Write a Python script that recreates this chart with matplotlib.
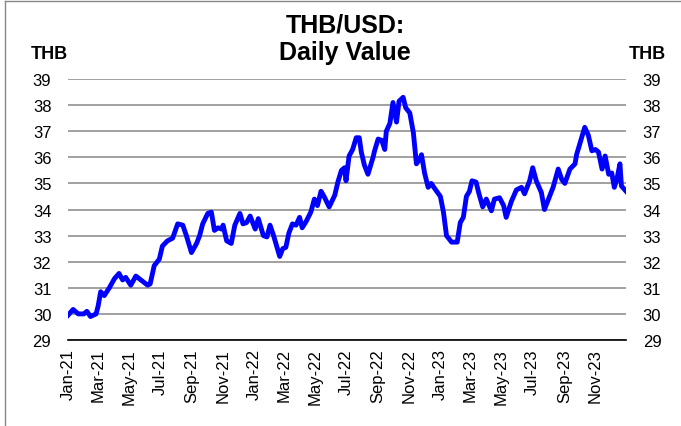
import numpy as np
import pandas as pd
import matplotlib
matplotlib.use("Agg")
import matplotlib.pyplot as plt
import matplotlib.dates as mdates
from matplotlib.lines import Line2D

plt.rcParams['font.family'] = ['Liberation Sans', 'DejaVu Sans']

# THB per USD
dates = [
    '2021-01-01', '2021-01-11', '2021-01-21', '2021-02-01', '2021-02-07', '2021-02-14',
    '2021-02-25', '2021-03-01', '2021-03-06', '2021-03-13', '2021-03-23', '2021-04-02',
    '2021-04-11', '2021-04-18', '2021-04-24', '2021-05-04', '2021-05-14', '2021-05-24',
    '2021-06-06', '2021-06-11', '2021-06-19', '2021-06-29', '2021-07-05', '2021-07-15',
    '2021-07-25', '2021-08-04', '2021-08-14', '2021-08-21', '2021-08-31', '2021-09-10',
    '2021-09-16', '2021-09-22', '2021-10-02', '2021-10-09', '2021-10-15', '2021-10-22',
    '2021-10-29', '2021-11-01', '2021-11-08', '2021-11-17', '2021-11-24', '2021-12-04',
    '2021-12-10', '2021-12-17', '2021-12-24', '2022-01-03', '2022-01-09', '2022-01-19',
    '2022-01-26', '2022-02-01', '2022-02-08', '2022-02-14', '2022-02-20', '2022-02-26',
    '2022-03-04', '2022-03-10', '2022-03-17', '2022-03-24', '2022-03-31', '2022-04-05',
    '2022-04-13', '2022-04-22', '2022-04-29', '2022-05-05', '2022-05-12', '2022-05-18',
    '2022-05-28', '2022-06-08', '2022-06-14', '2022-06-21', '2022-06-27', '2022-06-30',
    '2022-07-06', '2022-07-13', '2022-07-20', '2022-07-26', '2022-07-30', '2022-08-05',
    '2022-08-12', '2022-08-22', '2022-08-25', '2022-09-01', '2022-09-08', '2022-09-14',
    '2022-09-17', '2022-09-24', '2022-09-30', '2022-10-07', '2022-10-12', '2022-10-20',
    '2022-10-25', '2022-11-02', '2022-11-09', '2022-11-15', '2022-11-22', '2022-11-25',
    '2022-12-01', '2022-12-08', '2022-12-14', '2022-12-21', '2023-01-01', '2023-01-07',
    '2023-01-13', '2023-01-23', '2023-02-03', '2023-02-09', '2023-02-15', '2023-02-21',
    '2023-02-27', '2023-03-04', '2023-03-12', '2023-03-17', '2023-03-25', '2023-04-01',
    '2023-04-11', '2023-04-17', '2023-04-27', '2023-05-05', '2023-05-10', '2023-05-20',
    '2023-05-30', '2023-06-09', '2023-06-15', '2023-06-25', '2023-07-01', '2023-07-08',
    '2023-07-18', '2023-07-24', '2023-07-31', '2023-08-10', '2023-08-20', '2023-08-27',
    '2023-09-02', '2023-09-12', '2023-09-22', '2023-09-25', '2023-10-05', '2023-10-11',
    '2023-10-18', '2023-10-25', '2023-11-01', '2023-11-07', '2023-11-14', '2023-11-20',
    '2023-11-27', '2023-12-03', '2023-12-08', '2023-12-13', '2023-12-19', '2023-12-22',
    '2023-12-31',
]
thb = [
    29.95, 30.17, 30.0, 30.0, 30.1, 29.9,
    30.0, 30.3, 30.85, 30.7, 31.0, 31.35,
    31.55, 31.3, 31.4, 31.1, 31.45, 31.3,
    31.1, 31.15, 31.85, 32.1, 32.6, 32.8,
    32.9, 33.45, 33.4, 33.0, 32.35, 32.7,
    33.0, 33.45, 33.85, 33.9, 33.2, 33.3,
    33.25, 33.4, 32.8, 32.7, 33.4, 33.85,
    33.45, 33.5, 33.75, 33.25, 33.65, 33.0,
    32.95, 33.4, 33.0, 32.6, 32.2, 32.5,
    32.55, 33.1, 33.45, 33.4, 33.7, 33.3,
    33.55, 33.9, 34.4, 34.15, 34.7, 34.5,
    34.1, 34.55, 35.05, 35.5, 35.6, 35.1,
    36.05, 36.3, 36.75, 36.75, 36.2, 35.7,
    35.35, 36.0, 36.25, 36.7, 36.65, 36.3,
    37.0, 37.3, 38.1, 37.35, 38.15, 38.3,
    37.9, 37.7, 36.95, 35.75, 35.95, 36.1,
    35.4, 34.85, 35.0, 34.8, 34.5, 33.9,
    33.0, 32.75, 32.75, 33.5, 33.7, 34.5,
    34.7, 35.1, 35.05, 34.65, 34.1, 34.4,
    33.95, 34.4, 34.45, 34.15, 33.7, 34.3,
    34.75, 34.85, 34.6, 35.1, 35.6, 35.1,
    34.65, 34.0, 34.35, 34.85, 35.55, 35.15,
    35.0, 35.55, 35.75, 36.1, 36.75, 37.15,
    36.85, 36.25, 36.3, 36.2, 35.55, 36.05,
    35.35, 35.4, 34.85, 35.15, 35.75, 34.9,
    34.7,
]
x = pd.to_datetime(dates)

fig = plt.figure(figsize=(6.81, 4.27), dpi=100)
ax = fig.add_axes([0.0999, 0.2014, 0.8194, 0.6112])

ax.plot(x, thb, color='#0000FF', linewidth=3.5, solid_joinstyle='round')

ax.set_ylim(29, 39)
ax.set_yticks(range(29, 40))
ax.set_xlim(pd.Timestamp('2021-01-01'), pd.Timestamp('2023-12-31'))
ax.xaxis.set_major_locator(mdates.MonthLocator(bymonth=[1, 3, 5, 7, 9, 11]))
ax.xaxis.set_major_formatter(mdates.DateFormatter('%b-%y'))
plt.setp(ax.get_xticklabels(), rotation=90, fontsize=11)

ax.grid(axis='y', color='#999999', linewidth=1.3)
ax.set_axisbelow(True)
for s in ['top', 'left', 'right']:
    ax.spines[s].set_visible(False)
ax.spines['bottom'].set_color('black')
ax.spines['bottom'].set_linewidth(1.2)
ax.tick_params(axis='both', length=0, labelsize=12)
ax.tick_params(axis='y', pad=12, labelright=True)
ax.tick_params(axis='x', pad=6)

fig.text(0.507, 0.908, 'THB/USD:\nDaily Value', ha='center', va='center',
         fontsize=18, fontweight='bold', linespacing=1.16)
fig.text(0.072, 0.873, 'THB', ha='center', va='center', fontsize=13, fontweight='bold')
fig.text(0.950, 0.873, 'THB', ha='center', va='center', fontsize=13, fontweight='bold')

# outer frame (left and top edges visible in reference)
fig.add_artist(Line2D([0.008, 0.008], [0.0, 0.995], transform=fig.transFigure,
                      color='#888888', linewidth=1))
fig.add_artist(Line2D([0.008, 1.0], [0.995, 0.995], transform=fig.transFigure,
                      color='#888888', linewidth=1))

fig.savefig('out.png', dpi=100)
